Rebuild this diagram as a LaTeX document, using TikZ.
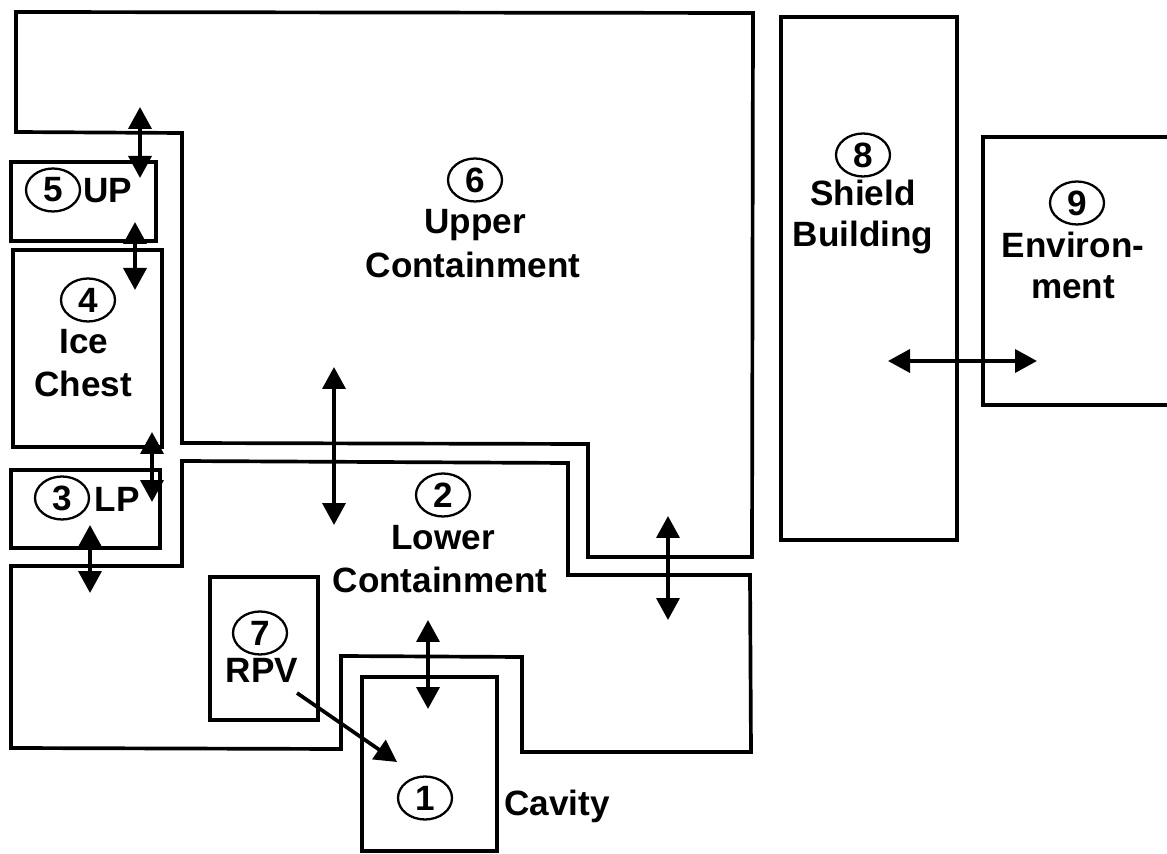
\documentclass[tikz,border=0pt]{standalone}
\usepackage{fontspec}
\setmainfont{Liberation Sans}
\usetikzlibrary{arrows.meta,shapes.geometric}
\newcommand{\cvfont}{\fontsize{20}{24}\selectfont\bfseries}
\tikzset{
 cv wall/.style={line width=2.1pt,line join=miter},
 cv flow/.style={line width=2.1pt,
                 {Triangle[length=4.4mm,width=4.6mm]}-{Triangle[length=4.4mm,width=4.6mm]}},
 cv jet/.style={line width=2.1pt,-{Triangle[length=4.4mm,width=4.6mm]}},
 cv num/.style={ellipse,draw,line width=1.3pt,minimum width=10.8mm,
                minimum height=8.6mm,inner sep=0pt,font=\cvfont},
 cv text/.style={anchor=base,inner sep=0pt,font=\cvfont}
}

\begin{document}
\begin{tikzpicture}[x=0.02cm,y=-0.02cm]
 \useasboundingbox (0,0) rectangle (1167,854);
 % upper and lower containment
 \draw[cv wall] (16,12) -- (753,13) -- (752,557) -- (588,557) -- (588,444)
   -- (182,443) -- (182,133) -- (16,132) -- cycle;
 \draw[cv wall] (182,461) -- (568,463) -- (568,575) -- (750,575) -- (751,752)
   -- (522,752) -- (522,657) -- (341,656) -- (341,749) -- (11,748)
   -- (11,566) -- (182,566) -- cycle;
 % small compartments
 \draw[cv wall] (11,162) rectangle (156,241);
 \draw[cv wall] (13,250) rectangle (162,447);
 \draw[cv wall] (11,470) rectangle (160,548);
 \draw[cv wall] (210,577) rectangle (318,720);
 \draw[cv wall] (362,677) rectangle (497,851);
 % shield building, environment
 \draw[cv wall] (781,17) rectangle (957,540);
 \draw[cv wall] (1167,137) -- (983,137) -- (983,405) -- (1167,405);

 % flow paths
 \foreach \n/\x/\ya/\yb in {65/140/107/178,54/135/222/290,43/152/432/502,
                            32/90/525/593,62a/334/367/525,62b/668/516/620,
                            21/428/620/709}{
   \coordinate (f\n u) at (\x,\ya);
   \coordinate (f\n d) at (\x,\yb);
   \draw[cv flow] (f\n u) -- (f\n d);
 }
 \coordinate (f89l) at (888,361);
 \coordinate (f89r) at (1037,361);
 \draw[cv flow] (f89l) -- (f89r);
 \coordinate (f71s) at (297,693);
 \coordinate (f71e) at (397,762);
 \draw[cv jet] (f71s) -- (f71e);

 % volume numbers
 \foreach \i/\x/\y in {1/425/798,2/443/495,3/62/498,4/88/300,5/53/190,
                       6/475/180,7/260/633,8/863/155,9/1077/203}
   \node[cv num] (n\i) at (\x,\y) {\i};

 % names
 \node[cv text] (t5) at (108,203) {UP};
 \node[cv text] (t3) at (117,512) {LP};
 \node[cv text] (t4a) at (84,354) {Ice};
 \node[cv text] (t4b) at (83,397) {Chest};
 \node[cv text] (t6a) at (475,234) {Upper};
 \node[cv text] (t6b) at (473,278) {Containment};
 \node[cv text] (t2a) at (443,550) {Lower};
 \node[cv text] (t2b) at (440,593) {Containment};
 \node[cv text] (t7) at (262,683) {RPV};
 \node[cv text] (t1) at (557,815) {Cavity};
 \node[cv text] (t8a) at (863,206) {Shield};
 \node[cv text] (t8b) at (863,247) {Building};
 \node[cv text] (t9a) at (1073,258) {Environ-};
 \node[cv text] (t9b) at (1073,299) {ment};
\end{tikzpicture}
\end{document}
